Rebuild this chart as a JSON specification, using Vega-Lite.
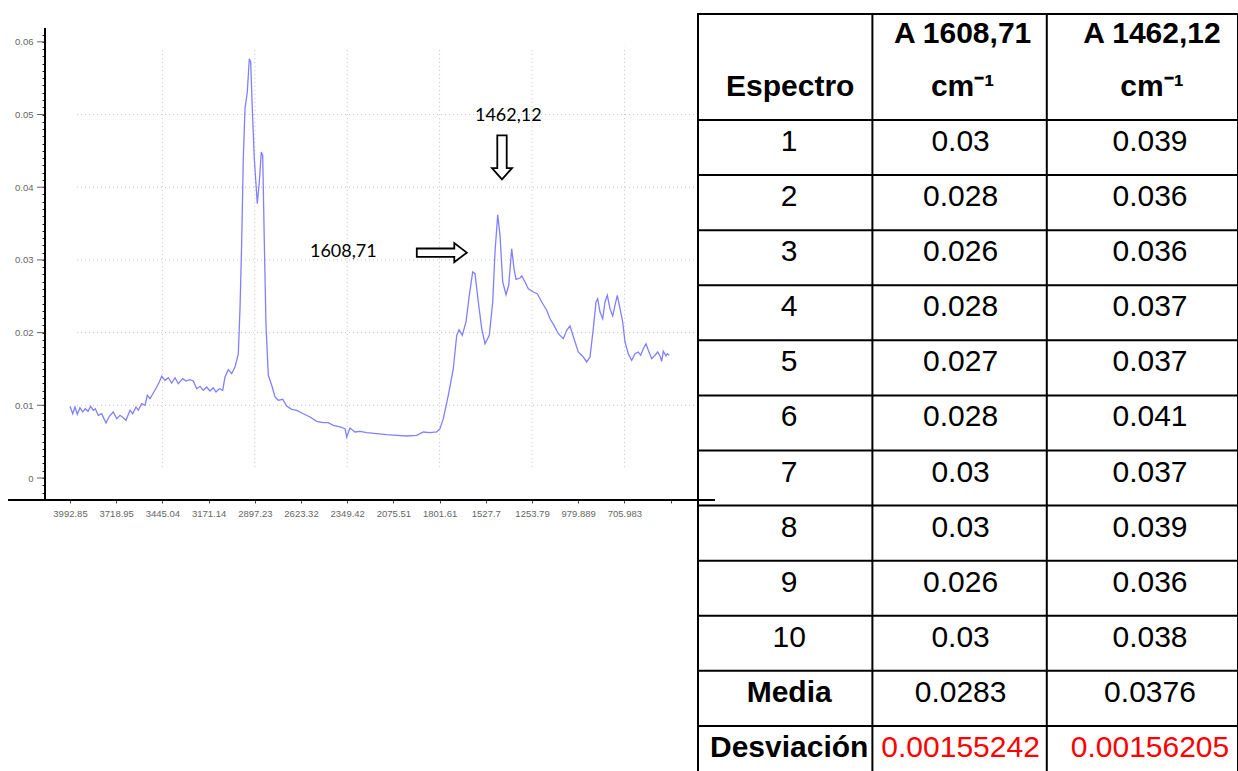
{
  "$schema": "https://vega.github.io/schema/vega-lite/v6.json",
  "background": "white",
  "padding": {"left": 7, "top": 12, "right": 0, "bottom": 0},
  "bounds": "flush",
  "spacing": 0,
  "config": {"view": {"stroke": null}},
  "datasets": {
    "spectrum": [
      {"wn": 3992.9, "abs": 0.00986}, {"wn": 3976.8, "abs": 0.00884}, {"wn": 3963.2, "abs": 0.00977}, {"wn": 3949.6, "abs": 0.00876},
      {"wn": 3933.6, "abs": 0.00967}, {"wn": 3917.6, "abs": 0.00908}, {"wn": 3902.1, "abs": 0.00953}, {"wn": 3886.1, "abs": 0.00917},
      {"wn": 3870.1, "abs": 0.00986}, {"wn": 3854.7, "abs": 0.00931}, {"wn": 3842.9, "abs": 0.00953}, {"wn": 3825.1, "abs": 0.00862},
      {"wn": 3805.0, "abs": 0.00884}, {"wn": 3779.4, "abs": 0.00757}, {"wn": 3759.9, "abs": 0.00849}, {"wn": 3736.2, "abs": 0.00908},
      {"wn": 3716.0, "abs": 0.00816}, {"wn": 3696.4, "abs": 0.00862}, {"wn": 3676.9, "abs": 0.00829}, {"wn": 3660.9, "abs": 0.00794},
      {"wn": 3637.1, "abs": 0.00931}, {"wn": 3621.1, "abs": 0.00884}, {"wn": 3601.6, "abs": 0.00977}, {"wn": 3587.9, "abs": 0.00931},
      {"wn": 3567.8, "abs": 0.01022}, {"wn": 3548.2, "abs": 0.01000}, {"wn": 3534.6, "abs": 0.01138}, {"wn": 3518.6, "abs": 0.01091},
      {"wn": 3499.0, "abs": 0.01169}, {"wn": 3478.9, "abs": 0.01252}, {"wn": 3463.4, "abs": 0.01320}, {"wn": 3449.2, "abs": 0.01399},
      {"wn": 3429.7, "abs": 0.01344}, {"wn": 3410.1, "abs": 0.01380}, {"wn": 3389.9, "abs": 0.01307}, {"wn": 3370.4, "abs": 0.01380},
      {"wn": 3350.8, "abs": 0.01297}, {"wn": 3324.7, "abs": 0.01366}, {"wn": 3305.1, "abs": 0.01334}, {"wn": 3281.4, "abs": 0.01352},
      {"wn": 3261.9, "abs": 0.01334}, {"wn": 3241.7, "abs": 0.01228}, {"wn": 3222.2, "abs": 0.01261}, {"wn": 3202.6, "abs": 0.01206},
      {"wn": 3182.4, "abs": 0.01252}, {"wn": 3162.9, "abs": 0.01197}, {"wn": 3143.3, "abs": 0.01242}, {"wn": 3127.3, "abs": 0.01183},
      {"wn": 3107.7, "abs": 0.01228}, {"wn": 3087.6, "abs": 0.01206}, {"wn": 3074.0, "abs": 0.01389}, {"wn": 3054.4, "abs": 0.01490},
      {"wn": 3034.2, "abs": 0.01435}, {"wn": 3014.7, "abs": 0.01527}, {"wn": 2995.1, "abs": 0.01706}, {"wn": 2985.0, "abs": 0.02329},
      {"wn": 2974.9, "abs": 0.03246}, {"wn": 2965.5, "abs": 0.04392}, {"wn": 2955.4, "abs": 0.05080}, {"wn": 2941.7, "abs": 0.05309},
      {"wn": 2929.9, "abs": 0.05768}, {"wn": 2921.6, "abs": 0.05722}, {"wn": 2912.1, "abs": 0.05080}, {"wn": 2900.2, "abs": 0.04392},
      {"wn": 2882.4, "abs": 0.03773}, {"wn": 2870.6, "abs": 0.04072}, {"wn": 2858.7, "abs": 0.04484}, {"wn": 2850.4, "abs": 0.04439},
      {"wn": 2840.9, "abs": 0.03246}, {"wn": 2830.9, "abs": 0.02100}, {"wn": 2817.2, "abs": 0.01413}, {"wn": 2797.1, "abs": 0.01275},
      {"wn": 2777.5, "abs": 0.01114}, {"wn": 2758.0, "abs": 0.01069}, {"wn": 2731.9, "abs": 0.01083}, {"wn": 2708.2, "abs": 0.00990},
      {"wn": 2678.5, "abs": 0.00945}, {"wn": 2648.9, "abs": 0.00931}, {"wn": 2609.7, "abs": 0.00884}, {"wn": 2570.0, "abs": 0.00839},
      {"wn": 2530.3, "abs": 0.00780}, {"wn": 2491.2, "abs": 0.00761}, {"wn": 2461.5, "abs": 0.00761}, {"wn": 2431.9, "abs": 0.00725},
      {"wn": 2392.2, "abs": 0.00702}, {"wn": 2362.5, "abs": 0.00678}, {"wn": 2352.5, "abs": 0.00564}, {"wn": 2332.9, "abs": 0.00688},
      {"wn": 2303.3, "abs": 0.00633}, {"wn": 2273.6, "abs": 0.00642}, {"wn": 2233.9, "abs": 0.00623}, {"wn": 2174.6, "abs": 0.00609},
      {"wn": 2115.3, "abs": 0.00596}, {"wn": 2056.0, "abs": 0.00587}, {"wn": 1996.7, "abs": 0.00578}, {"wn": 1937.5, "abs": 0.00587},
      {"wn": 1898.3, "abs": 0.00633}, {"wn": 1858.6, "abs": 0.00623}, {"wn": 1818.9, "abs": 0.00633}, {"wn": 1799.3, "abs": 0.00678},
      {"wn": 1779.7, "abs": 0.00816}, {"wn": 1750.1, "abs": 0.01138}, {"wn": 1720.5, "abs": 0.01503}, {"wn": 1700.3, "abs": 0.01963},
      {"wn": 1686.7, "abs": 0.02040}, {"wn": 1667.1, "abs": 0.01963}, {"wn": 1645.2, "abs": 0.02146}, {"wn": 1625.6, "abs": 0.02513},
      {"wn": 1605.5, "abs": 0.02834}, {"wn": 1591.8, "abs": 0.02810}, {"wn": 1572.2, "abs": 0.02421}, {"wn": 1552.1, "abs": 0.02054},
      {"wn": 1532.5, "abs": 0.01847}, {"wn": 1507.0, "abs": 0.01963}, {"wn": 1486.8, "abs": 0.02421}, {"wn": 1473.2, "abs": 0.03109},
      {"wn": 1457.2, "abs": 0.03622}, {"wn": 1443.6, "abs": 0.03338}, {"wn": 1427.6, "abs": 0.02696}, {"wn": 1408.0, "abs": 0.02521},
      {"wn": 1392.0, "abs": 0.02651}, {"wn": 1374.2, "abs": 0.03154}, {"wn": 1360.6, "abs": 0.02879}, {"wn": 1348.7, "abs": 0.02733},
      {"wn": 1325.0, "abs": 0.02751}, {"wn": 1314.9, "abs": 0.02779}, {"wn": 1295.3, "abs": 0.02696}, {"wn": 1275.8, "abs": 0.02604},
      {"wn": 1246.1, "abs": 0.02558}, {"wn": 1222.4, "abs": 0.02535}, {"wn": 1196.3, "abs": 0.02421}, {"wn": 1166.7, "abs": 0.02307},
      {"wn": 1147.1, "abs": 0.02191}, {"wn": 1123.4, "abs": 0.02100}, {"wn": 1097.9, "abs": 0.01985}, {"wn": 1068.3, "abs": 0.01916},
      {"wn": 1048.1, "abs": 0.02032}, {"wn": 1028.6, "abs": 0.02091}, {"wn": 1004.9, "abs": 0.01916}, {"wn": 979.4, "abs": 0.01733},
      {"wn": 949.7, "abs": 0.01664}, {"wn": 929.6, "abs": 0.01596}, {"wn": 910.1, "abs": 0.01664}, {"wn": 890.5, "abs": 0.02054},
      {"wn": 874.5, "abs": 0.02421}, {"wn": 864.4, "abs": 0.02466}, {"wn": 850.8, "abs": 0.02283}, {"wn": 834.8, "abs": 0.02191},
      {"wn": 821.2, "abs": 0.02421}, {"wn": 807.5, "abs": 0.02513}, {"wn": 791.5, "abs": 0.02329}, {"wn": 775.5, "abs": 0.02228},
      {"wn": 761.9, "abs": 0.02375}, {"wn": 748.2, "abs": 0.02513}, {"wn": 732.2, "abs": 0.02329}, {"wn": 716.2, "abs": 0.02146},
      {"wn": 702.6, "abs": 0.01871}, {"wn": 683.0, "abs": 0.01710}, {"wn": 662.9, "abs": 0.01619}, {"wn": 643.3, "abs": 0.01710},
      {"wn": 623.8, "abs": 0.01733}, {"wn": 609.5, "abs": 0.01688}, {"wn": 594.1, "abs": 0.01779}, {"wn": 578.1, "abs": 0.01847},
      {"wn": 564.5, "abs": 0.01757}, {"wn": 544.3, "abs": 0.01641}, {"wn": 524.7, "abs": 0.01688}, {"wn": 508.7, "abs": 0.01733},
      {"wn": 495.1, "abs": 0.01678}, {"wn": 485.0, "abs": 0.01605}, {"wn": 475.5, "abs": 0.01743}, {"wn": 459.5, "abs": 0.01678},
      {"wn": 451.8, "abs": 0.01710}, {"wn": 440.0, "abs": 0.01688}
    ],
    "gridX": [{"wn": 3445.04}, {"wn": 2897.23}, {"wn": 2349.42}, {"wn": 1801.61}, {"wn": 1253.79}, {"wn": 705.983}],
    "yMajor": [{"abs": 0}, {"abs": 0.01}, {"abs": 0.02}, {"abs": 0.03}, {"abs": 0.04}, {"abs": 0.05}, {"abs": 0.06}],
    "labels": [
      {"label": "1608,71", "wn": 2372.6, "abs": 0.0311},
      {"label": "1462,12", "wn": 1394.4, "abs": 0.0498}
    ],
    "arrows": [
      {"arrow": "right", "wn": 1788.7, "abs": 0.0310},
      {"arrow": "down", "wn": 1431.8, "abs": 0.0441}
    ],
    "table": [
      {"row": "1", "a1608": "0.03", "a1462": "0.039"},
      {"row": "2", "a1608": "0.028", "a1462": "0.036"},
      {"row": "3", "a1608": "0.026", "a1462": "0.036"},
      {"row": "4", "a1608": "0.028", "a1462": "0.037"},
      {"row": "5", "a1608": "0.027", "a1462": "0.037"},
      {"row": "6", "a1608": "0.028", "a1462": "0.041"},
      {"row": "7", "a1608": "0.03", "a1462": "0.037"},
      {"row": "8", "a1608": "0.03", "a1462": "0.039"},
      {"row": "9", "a1608": "0.026", "a1462": "0.036"},
      {"row": "10", "a1608": "0.03", "a1462": "0.038"},
      {"row": "Media", "a1608": "0.0283", "a1462": "0.0376"},
      {"row": "Desviación", "a1608": "0.00155242", "a1462": "0.00156205"}
    ],
    "header": [
      {"row": "h1", "col": "A1608", "label": "A 1608,71"},
      {"row": "h1", "col": "A1462", "label": "A 1462,12"},
      {"row": "h2", "col": "Espectro", "label": "Espectro"},
      {"row": "h2", "col": "A1608", "label": "cm⁻¹"},
      {"row": "h2", "col": "A1462", "label": "cm⁻¹"}
    ],
    "columns": [{"col": "Espectro"}, {"col": "A1608"}, {"col": "A1462"}]
  },
  "hconcat": [
    {
      "width": 653,
      "height": 486,
      "resolve": {"axis": {"x": "independent", "y": "independent"}},
      "layer": [
        {
          "data": {"name": "gridX"},
          "mark": {"type": "rule", "color": "#c4c4c4", "strokeWidth": 1, "strokeDash": [1, 3]},
          "encoding": {
            "x": {"field": "wn", "type": "quantitative", "axis": null},
            "y": {"datum": 0.0015, "type": "quantitative", "axis": null},
            "y2": {"datum": 0.0593}
          }
        },
        {
          "data": {"name": "yMajor"},
          "transform": [{"filter": "datum.abs > 0.005 && datum.abs < 0.055"}],
          "mark": {"type": "rule", "color": "#c4c4c4", "strokeWidth": 1, "strokeDash": [1, 3]},
          "encoding": {
            "x": {"datum": 3951.0, "type": "quantitative", "axis": null},
            "x2": {"datum": 269.81},
            "y": {"field": "abs", "type": "quantitative", "axis": null}
          }
        },
        {
          "data": {"name": "spectrum"},
          "mark": {"type": "line", "color": "#8080ff", "strokeWidth": 1.3},
          "encoding": {
            "x": {
              "field": "wn", "type": "quantitative",
              "scale": {"domain": [269.81, 4141.06], "reverse": true, "nice": false, "zero": false},
              "axis": {
                "title": null, "domain": false, "orient": "bottom", "grid": false,
                "values": [3992.85, 3718.95, 3445.04, 3171.14, 2897.23, 2623.32, 2349.42, 2075.51, 1801.61, 1527.7, 1253.79, 979.889, 705.983, 432.077],
                "labelExpr": "datum.value < 500 ? '' : format(datum.value, '.6~g')",
                "labelFont": "Liberation Sans", "labelFontSize": 9.5, "labelColor": "#666666",
                "labelPadding": 5, "labelFlush": false, "labelOverlap": false,
                "tickSize": 3, "tickColor": "#444444", "tickWidth": 1
              }
            },
            "y": {
              "field": "abs", "type": "quantitative",
              "scale": {"domain": [-0.003026, 0.063824], "nice": false, "zero": false},
              "axis": {
                "title": null, "domain": false, "orient": "left", "grid": false,
                "values": [-0.002, -0.001, 0, 0.001, 0.002, 0.003, 0.004, 0.005, 0.006, 0.007, 0.008, 0.009, 0.01, 0.011, 0.012, 0.013, 0.014, 0.015, 0.016, 0.017, 0.018, 0.019, 0.02, 0.021, 0.022, 0.023, 0.024, 0.025, 0.026, 0.027, 0.028, 0.029, 0.03, 0.031, 0.032, 0.033, 0.034, 0.035, 0.036, 0.037, 0.038, 0.039, 0.04, 0.041, 0.042, 0.043, 0.044, 0.045, 0.046, 0.047, 0.048, 0.049, 0.05, 0.051, 0.052, 0.053, 0.054, 0.055, 0.056, 0.057, 0.058, 0.059, 0.06, 0.061],
                "labelExpr": "abs(datum.value * 100 - round(datum.value * 100)) < 0.001 && datum.value >= 0 ? format(datum.value, '.2~f') : ''",
                "labelFont": "Liberation Sans", "labelFontSize": 9.5, "labelColor": "#666666",
                "labelPadding": 9, "labelFlush": false, "labelOverlap": false, "labelBound": false,
                "tickSize": 3, "tickColor": "#222222", "tickWidth": 1
              }
            }
          }
        },
        {
          "data": {"name": "yMajor"},
          "mark": {"type": "rule", "color": "#666666", "strokeWidth": 1},
          "encoding": {
            "x": {"datum": 4141.06, "type": "quantitative", "axis": null},
            "x2": {"datum": 4188.5},
            "y": {"field": "abs", "type": "quantitative", "axis": null}
          }
        },
        {
          "data": {"values": [{}]},
          "mark": {"type": "rule", "color": "#000000", "strokeWidth": 2},
          "encoding": {
            "x": {"datum": 4141.06, "type": "quantitative", "axis": null},
            "y": {"datum": -0.003026, "type": "quantitative", "axis": null},
            "y2": {"datum": 0.0619}
          }
        },
        {
          "data": {"values": [{}]},
          "mark": {"type": "rule", "color": "#000000", "strokeWidth": 2},
          "encoding": {
            "x": {"datum": 4360.2, "type": "quantitative", "axis": null},
            "x2": {"datum": 169.0},
            "y": {"datum": -0.003026, "type": "quantitative", "axis": null}
          }
        },
        {
          "data": {"name": "labels"},
          "mark": {"type": "text", "font": "Lato", "fontSize": 18, "color": "#000000", "align": "center", "baseline": "middle"},
          "encoding": {
            "x": {"field": "wn", "type": "quantitative", "axis": null},
            "y": {"field": "abs", "type": "quantitative", "axis": null},
            "text": {"field": "label", "type": "nominal"}
          }
        },
        {
          "data": {"name": "arrows"},
          "transform": [{"filter": "datum.arrow === 'right'"}],
          "mark": {"type": "point", "filled": true, "fill": "#ffffff", "stroke": "#000000", "strokeWidth": 1.8, "opacity": 1, "size": 2500,
                   "shape": "M-1,-0.166L0.5,-0.166L0.5,-0.38L1,0L0.5,0.38L0.5,0.166L-1,0.166Z"},
          "encoding": {
            "x": {"field": "wn", "type": "quantitative", "axis": null},
            "y": {"field": "abs", "type": "quantitative", "axis": null}
          }
        },
        {
          "data": {"name": "arrows"},
          "transform": [{"filter": "datum.arrow === 'down'"}],
          "mark": {"type": "point", "filled": true, "fill": "#ffffff", "stroke": "#000000", "strokeWidth": 1.8, "opacity": 1, "size": 1936,
                   "shape": "M-0.214,-1L0.214,-1L0.214,0.486L0.455,0.486L0,1L-0.455,0.486L-0.214,0.486Z"},
          "encoding": {
            "x": {"field": "wn", "type": "quantitative", "axis": null},
            "y": {"field": "abs", "type": "quantitative", "axis": null}
          }
        }
      ]
    },
    {
      "spacing": 0,
      "bounds": "flush",
      "vconcat": [
        {
          "width": 540,
          "height": 106,
          "view": {"stroke": "#000000", "strokeWidth": 2},
          "layer": [
            {
              "data": {"name": "columns"},
              "mark": {"type": "rule", "color": "#000000", "strokeWidth": 2},
              "encoding": {
                "x": {"field": "col", "type": "nominal", "bandPosition": 0, "axis": null,
                      "scale": {"type": "band", "domain": ["Espectro", "A1608", "A1462"], "paddingInner": 0, "paddingOuter": 0.0482, "align": 0}}
              }
            },
            {
              "data": {"name": "header"},
              "transform": [{"filter": "datum.col === 'Espectro'"}],
              "mark": {"type": "text", "font": "Liberation Sans", "fontSize": 30, "fontWeight": "bold", "color": "#000000", "align": "center", "baseline": "middle", "dy": -6.5, "dx": 5},
              "encoding": {
                "x": {"field": "col", "type": "nominal", "bandPosition": 0.5, "axis": null,
                      "scale": {"type": "band", "domain": ["Espectro", "A1608", "A1462"], "paddingInner": 0, "paddingOuter": 0.0482, "align": 0}},
                "y": {"field": "row", "type": "nominal", "bandPosition": 0.5, "axis": null,
                      "scale": {"type": "band", "domain": ["h1", "h2"], "paddingInner": 0, "paddingOuter": 0}},
                "text": {"field": "label", "type": "nominal"}
              }
            },
            {
              "data": {"name": "header"},
              "transform": [{"filter": "datum.col === 'A1608'"}],
              "mark": {"type": "text", "font": "Liberation Sans", "fontSize": 30, "fontWeight": "bold", "color": "#000000", "align": "center", "baseline": "middle", "dy": -6.5, "dx": 3},
              "encoding": {
                "x": {"field": "col", "type": "nominal", "bandPosition": 0.5, "axis": null,
                      "scale": {"type": "band", "domain": ["Espectro", "A1608", "A1462"], "paddingInner": 0, "paddingOuter": 0.0482, "align": 0}},
                "y": {"field": "row", "type": "nominal", "bandPosition": 0.5, "axis": null,
                      "scale": {"type": "band", "domain": ["h1", "h2"], "paddingInner": 0, "paddingOuter": 0}},
                "text": {"field": "label", "type": "nominal"}
              }
            },
            {
              "data": {"name": "header"},
              "transform": [{"filter": "datum.col === 'A1462'"}],
              "mark": {"type": "text", "font": "Liberation Sans", "fontSize": 30, "fontWeight": "bold", "color": "#000000", "align": "center", "baseline": "middle", "dy": -6.5, "dx": 18},
              "encoding": {
                "x": {"field": "col", "type": "nominal", "bandPosition": 0.5, "axis": null,
                      "scale": {"type": "band", "domain": ["Espectro", "A1608", "A1462"], "paddingInner": 0, "paddingOuter": 0.0482, "align": 0}},
                "y": {"field": "row", "type": "nominal", "bandPosition": 0.5, "axis": null,
                      "scale": {"type": "band", "domain": ["h1", "h2"], "paddingInner": 0, "paddingOuter": 0}},
                "text": {"field": "label", "type": "nominal"}
              }
            }
          ]
        },
        {
          "width": 540,
          "height": 661,
          "view": {"stroke": "#000000", "strokeWidth": 2},
          "layer": [
            {
              "data": {"name": "table"},
              "mark": {"type": "rule", "color": "#000000", "strokeWidth": 2},
              "encoding": {
                "y": {"field": "row", "type": "nominal", "bandPosition": 0, "axis": null,
                      "scale": {"type": "band", "domain": ["1", "2", "3", "4", "5", "6", "7", "8", "9", "10", "Media", "Desviación"], "paddingInner": 0, "paddingOuter": 0}}
              }
            },
            {
              "data": {"name": "columns"},
              "mark": {"type": "rule", "color": "#000000", "strokeWidth": 2},
              "encoding": {
                "x": {"field": "col", "type": "nominal", "bandPosition": 0, "axis": null,
                      "scale": {"type": "band", "domain": ["Espectro", "A1608", "A1462"], "paddingInner": 0, "paddingOuter": 0.0482, "align": 0}}
              }
            },
            {
              "data": {"name": "table"},
              "transform": [{"filter": "datum.row !== 'Media' && datum.row !== 'Desviación'"}],
              "mark": {"type": "text", "font": "Liberation Sans", "fontSize": 30, "color": "#000000", "align": "center", "baseline": "middle", "dy": -5.5, "dx": 4},
              "encoding": {
                "x": {"datum": "Espectro", "type": "nominal", "bandPosition": 0.5, "axis": null,
                      "scale": {"type": "band", "domain": ["Espectro", "A1608", "A1462"], "paddingInner": 0, "paddingOuter": 0.0482, "align": 0}},
                "y": {"field": "row", "type": "nominal", "bandPosition": 0.5, "axis": null,
                      "scale": {"type": "band", "domain": ["1", "2", "3", "4", "5", "6", "7", "8", "9", "10", "Media", "Desviación"], "paddingInner": 0, "paddingOuter": 0}},
                "text": {"field": "row", "type": "nominal"}
              }
            },
            {
              "data": {"name": "table"},
              "transform": [{"filter": "datum.row === 'Media' || datum.row === 'Desviación'"}],
              "mark": {"type": "text", "font": "Liberation Sans", "fontSize": 30, "fontWeight": "bold", "color": "#000000", "align": "center", "baseline": "middle", "dy": -5.5, "dx": 4},
              "encoding": {
                "x": {"datum": "Espectro", "type": "nominal", "bandPosition": 0.5, "axis": null,
                      "scale": {"type": "band", "domain": ["Espectro", "A1608", "A1462"], "paddingInner": 0, "paddingOuter": 0.0482, "align": 0}},
                "y": {"field": "row", "type": "nominal", "bandPosition": 0.5, "axis": null,
                      "scale": {"type": "band", "domain": ["1", "2", "3", "4", "5", "6", "7", "8", "9", "10", "Media", "Desviación"], "paddingInner": 0, "paddingOuter": 0}},
                "text": {"field": "row", "type": "nominal"}
              }
            },
            {
              "data": {"name": "table"},
              "mark": {"type": "text", "font": "Liberation Sans", "fontSize": 30, "align": "center", "baseline": "middle", "dy": -5.5, "dx": 1},
              "encoding": {
                "x": {"datum": "A1608", "type": "nominal", "bandPosition": 0.5, "axis": null,
                      "scale": {"type": "band", "domain": ["Espectro", "A1608", "A1462"], "paddingInner": 0, "paddingOuter": 0.0482, "align": 0}},
                "y": {"field": "row", "type": "nominal", "bandPosition": 0.5, "axis": null,
                      "scale": {"type": "band", "domain": ["1", "2", "3", "4", "5", "6", "7", "8", "9", "10", "Media", "Desviación"], "paddingInner": 0, "paddingOuter": 0}},
                "text": {"field": "a1608", "type": "nominal"},
                "color": {"condition": {"test": "datum.row === 'Desviación'", "value": "#ff0000"}, "value": "#000000"}
              }
            },
            {
              "data": {"name": "table"},
              "mark": {"type": "text", "font": "Liberation Sans", "fontSize": 30, "align": "center", "baseline": "middle", "dy": -5.5, "dx": 16},
              "encoding": {
                "x": {"datum": "A1462", "type": "nominal", "bandPosition": 0.5, "axis": null,
                      "scale": {"type": "band", "domain": ["Espectro", "A1608", "A1462"], "paddingInner": 0, "paddingOuter": 0.0482, "align": 0}},
                "y": {"field": "row", "type": "nominal", "bandPosition": 0.5, "axis": null,
                      "scale": {"type": "band", "domain": ["1", "2", "3", "4", "5", "6", "7", "8", "9", "10", "Media", "Desviación"], "paddingInner": 0, "paddingOuter": 0}},
                "text": {"field": "a1462", "type": "nominal"},
                "color": {"condition": {"test": "datum.row === 'Desviación'", "value": "#ff0000"}, "value": "#000000"}
              }
            }
          ]
        }
      ]
    }
  ]
}
